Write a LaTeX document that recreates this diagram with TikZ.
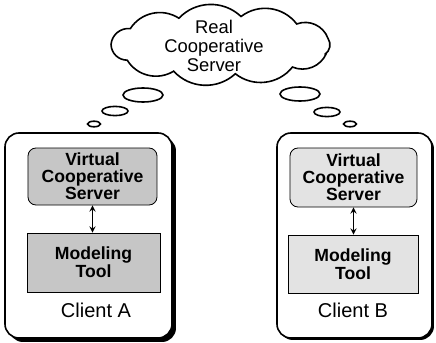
\documentclass[tikz,border=0pt]{standalone}
\usepackage{fontspec}
\setmainfont{Liberation Sans}
\tikzset{
    client/.style={draw,thick,rounded corners=7pt,fill=white,inner sep=0pt},
    vserver/.style={draw,rounded corners=4pt,inner sep=0pt,align=center,
        font=\fontsize{8.8}{8.6}\selectfont\bfseries},
    tool/.style={draw,inner sep=0pt,align=center,font=\fontsize{8.8}{9.2}\selectfont\bfseries},
    caption/.style={font=\fontsize{10}{11}\selectfont},
    bubble/.style={draw,thick}
}
\begin{document}
\begin{tikzpicture}[x=0.5pt,y=-0.5pt,font=\fontsize{9.2}{9.4}\selectfont,>=stealth]
    \useasboundingbox (0,0) rectangle (436,343);
    % Real server cloud
    \node[align=center] (real) at (214,46) {Real\\Cooperative\\Server};
    \draw[thick] ({221+110*cos(16.5)},{45+29*sin(16.5)}) \foreach \a in {49.5,82.5,...,379.5} {
        to[bend left=45] ({221+110*cos(\a)},{45+29*sin(\a)}) };
    % thought bubbles
    \draw[bubble] (143,95) ellipse [x radius=10pt,y radius=3.5pt];
    \draw[bubble] (115,111) ellipse [x radius=6.5pt,y radius=2.3pt];
    \draw[bubble] (94,124) ellipse [x radius=3.2pt,y radius=1.4pt];
    \draw[bubble] (300,94) ellipse [x radius=10pt,y radius=3.5pt];
    \draw[bubble] (327,112) ellipse [x radius=6.5pt,y radius=2.3pt];
    \draw[bubble] (350,124) ellipse [x radius=3.2pt,y radius=1.4pt];
    % Client A
    \fill[rounded corners=7pt] (9,137) rectangle (176,342);
    \node[client,minimum width=83.5pt,minimum height=102.5pt] (clientA) at (88.5,235.5) {};
    \node[vserver,fill=gray!45,minimum width=64.5pt,minimum height=28.5pt] (vsA) at (92.5,176.5)
        {Virtual\\Cooperative\\Server};
    \node[tool,fill=gray!45,minimum width=66.5pt,minimum height=29.5pt] (mtA) at (93.5,262.5)
        {Modeling\\Tool};
    \node[caption] (labA) at (96,310) {Client A};
    \draw[<->] (vsA) -- (vsA |- mtA.north);
    % Client B
    \fill[rounded corners=7pt] (279,135) rectangle (434,340);
    \node[client,minimum width=77.5pt,minimum height=102.5pt] (clientB) at (354.5,235.5) {};
    \node[vserver,fill=gray!22,minimum width=63.5pt,minimum height=29.5pt] (vsB) at (353.5,177.5)
        {Virtual\\Cooperative\\Server};
    \node[tool,fill=gray!22,minimum width=65pt,minimum height=29pt] (mtB) at (353,264)
        {Modeling\\Tool};
    \node[caption] (labB) at (353,310) {Client B};
    \draw[<->] (vsB) -- (vsB |- mtB.north);
\end{tikzpicture}
\end{document}
